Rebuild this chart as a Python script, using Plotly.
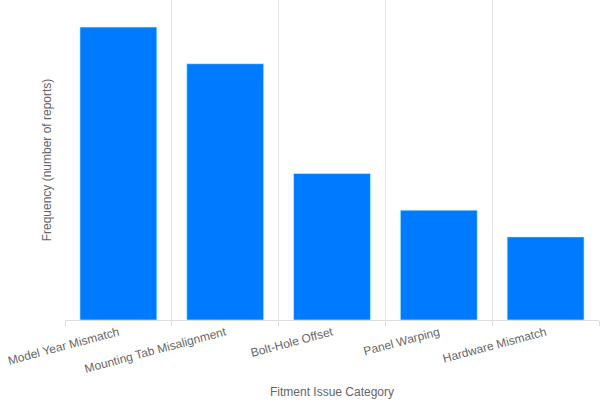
import plotly.graph_objects as go

categories = ["Model Year Mismatch", "Mounting Tab Misalignment", "Bolt-Hole Offset",
              "Panel Warping", "Hardware Mismatch"]
frequency = [80, 70, 40, 30, 22.7]

fig = go.Figure(go.Bar(
    x=categories, y=frequency,
    marker=dict(color="#007bff", line=dict(color="rgba(180,255,255,0.6)", width=1)),
))

fig.update_layout(
    width=600, height=400,
    margin=dict(l=65, r=1, t=0, b=80),
    paper_bgcolor="white", plot_bgcolor="white",
    font=dict(family="Liberation Sans, Arial, sans-serif", size=12, color="#666666"),
    bargap=0.28,
    showlegend=False,
    xaxis=dict(
        title=dict(text="Fitment Issue Category", font=dict(size=12, color="#666666"), standoff=12),
        automargin=False,
        tickson="boundaries", ticks="outside", ticklen=5, tickcolor="#dddddd",
        showgrid=True, gridcolor="#e5e5e5", gridwidth=1,
        showline=True, linecolor="#dddddd", linewidth=1,
        tickangle=-15, tickfont=dict(size=12, color="#666666"),
    ),
    yaxis=dict(
        title=dict(text="Frequency (number of reports)", font=dict(size=12, color="#666666"), standoff=9),
        automargin=False,
        range=[0, 87.4], showticklabels=False, showgrid=False, zeroline=False,
        showline=False, ticks="",
    ),
)

fig.write_html("out.html", config={"displayModeBar": False},
               post_script="document.body.style.margin='0';")
